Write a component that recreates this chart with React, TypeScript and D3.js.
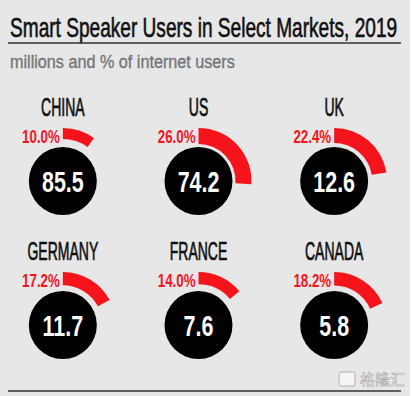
import * as d3 from 'd3'

const countries = ['CHINA', 'US', 'UK', 'GERMANY', 'FRANCE', 'CANADA']
const users = [85.5, 74.2, 12.6, 11.7, 7.6, 5.8]
const pctOfInternet = [10.0, 26.0, 22.4, 17.2, 14.0, 18.2]

const W = 412
const H = 396
const RED = '#f5141c'
const FONT = 'Liberation Sans, Arial, sans-serif'

export default function App() {
  const col = d3.scaleBand<number>().domain([0, 1, 2]).range([-5, 402])
  const row = d3.scaleBand<number>().domain([0, 1]).range([109, 397])
  // share of internet users -> sweep angle (full circle = 100%)
  const angle = d3.scaleLinear().domain([0, 100]).range([0, 2 * Math.PI])
  // arcs get a little thicker as the share grows
  const thick = d3.scaleLinear().domain([10, 26]).range([11, 16])
  const outerR = 53
  const circleR = 34
  const arc = d3.arc<{ v: number }>()
    .outerRadius(outerR)
    .innerRadius(d => outerR - thick(d.v))
    .startAngle(0)
    .endAngle(d => angle(d.v))

  return (
    <svg width={W} height={H} style={{ position: 'absolute', left: 0, top: 0 }} fontFamily={FONT}>
      <rect width={W} height={H} fill="#fff" />
      <rect width={410} height={H} fill="#e7e7e8" />

      {/* condensed look: squeeze the glyphs horizontally */}
      <text transform="translate(10,37) scale(0.707,1)" fontSize={27} fill="#111" stroke="#111" strokeWidth={0.6}>
        Smart Speaker Users in Select Markets, 2019
      </text>
      <line x1={8} x2={401} y1={43} y2={43} stroke="#333" strokeWidth={1.5} />
      <text transform="translate(10,68) scale(0.852,1)" fontSize={19} fill="#777" stroke="#777" strokeWidth={0.4}>
        millions and % of internet users
      </text>

      {countries.map((c, i) => {
        const cx = col(i % 3)! + col.bandwidth() / 2
        const cy = row(Math.floor(i / 3))! + row.bandwidth() / 2
        return (
          <g key={c}>
            <text transform={`translate(${cx},${cy - 65}) scale(0.56,1)`} textAnchor="middle"
              fontSize={25} fill="#111" stroke="#111" strokeWidth={0.7}>
              {c}
            </text>
            <path transform={`translate(${cx},${cy})`} d={arc({ v: pctOfInternet[i] }) ?? ''} fill={RED} />
            <text transform={`translate(${cx - 3},${cy - 38}) scale(0.72,1)`} textAnchor="end"
              fontSize={18.5} fontWeight="bold" fill={RED}>
              {pctOfInternet[i].toFixed(1)}%
            </text>
            <circle cx={cx} cy={cy} r={circleR} fill="#000" />
            <text transform={`translate(${cx},${cy + 10.5}) scale(0.74,1)`} textAnchor="middle"
              fontSize={29} fontWeight="bold" fill="#fff">
              {users[i].toFixed(1)}
            </text>
          </g>
        )
      })}

      <g opacity={0.9}>
        <rect x={339} y={372} width={16} height={14} rx={2} fill="#f6f6f6" stroke="#9a9a9a" strokeWidth={0.8} />
        <text x={360} y={385} fontSize={15} fill="#f6f6f6" stroke="#9a9a9a" strokeWidth={0.5} fontFamily="Noto Sans CJK SC">
          格隆汇
        </text>
      </g>
      <line x1={8} x2={401} y1={391} y2={391} stroke="#333" strokeWidth={1.5} />
    </svg>
  )
}
